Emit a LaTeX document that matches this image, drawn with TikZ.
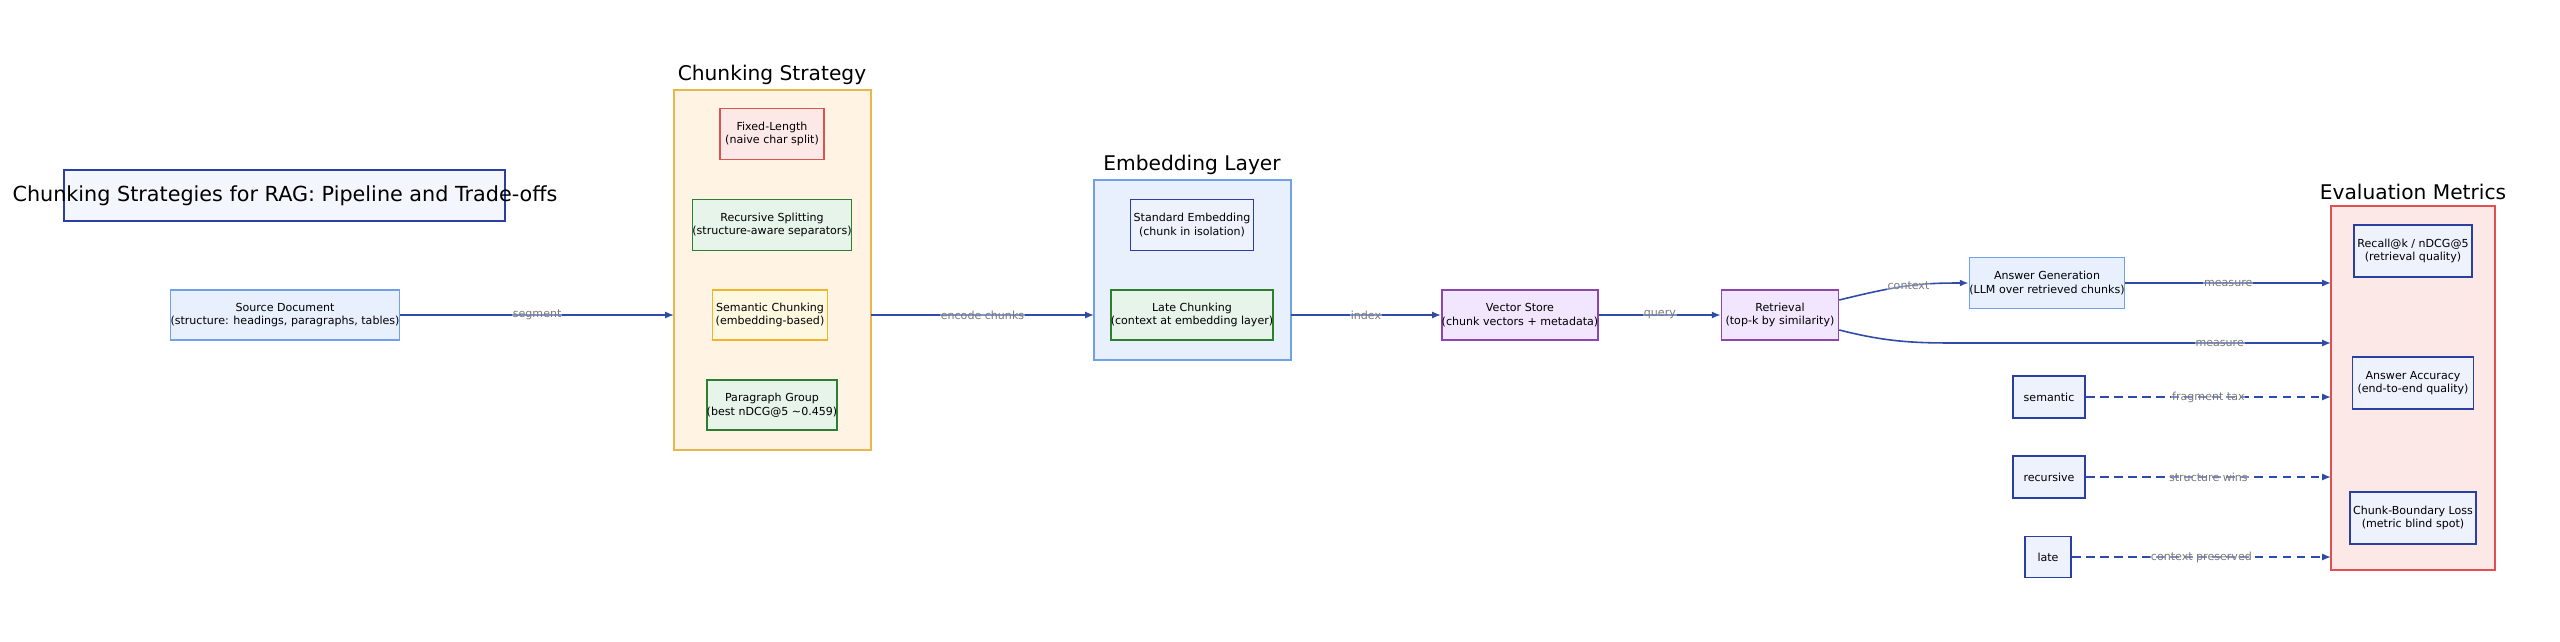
\documentclass[tikz,border=0pt]{standalone}
\usepackage{fontspec}
\setmainfont{DejaVu Sans}
\usetikzlibrary{arrows.meta}
\definecolor{dblue}{HTML}{2A3F9F}
\definecolor{lblue}{HTML}{6FA0E8}
\definecolor{edge}{HTML}{2F4BA8}
\definecolor{lab}{HTML}{7A7A7A}
\definecolor{ored}{HTML}{E8B64A}
\definecolor{ofill}{HTML}{FFF3E3}
\definecolor{bfill}{HTML}{E8F0FD}
\definecolor{efred}{HTML}{E05050}
\definecolor{effill}{HTML}{FDE8E8}
\definecolor{tfill}{HTML}{F3F6FD}
\definecolor{rred}{HTML}{D9534F}
\definecolor{gdraw}{HTML}{2E7D32}
\definecolor{gfill}{HTML}{E6F4EA}
\definecolor{ydraw}{HTML}{F0B429}
\definecolor{yfill}{HTML}{FFF8E1}
\definecolor{mfill}{HTML}{EEF2FD}
\definecolor{pdraw}{HTML}{8E44AD}
\definecolor{pfill}{HTML}{F1E6FD}
\begin{document}
\begin{tikzpicture}[x=0.02cm,y=-0.02cm,
  box/.style={draw=#1,line width=0.9pt,align=center,font=\fontsize{6.3}{7.8}\selectfont,inner sep=0pt,anchor=center},
  wh/.style 2 args={minimum width=#1*0.02cm,minimum height=#2*0.02cm},
  gtitle/.style={font=\fontsize{11.5}{13}\selectfont},
  conn/.style={draw=edge,line width=0.9pt,-{Latex[length=5pt,width=4pt]}},
  dconn/.style={conn,dash pattern=on 5pt off 3pt},
  lbl/.style={font=\fontsize{6.3}{7.5}\selectfont,text=lab,fill=white,fill opacity=0.4,text opacity=1,inner sep=0.5pt}]
\useasboundingbox (0,0) rectangle (2560,642);
% groups
\filldraw[draw=ored,fill=ofill,line width=0.9pt] (674,90) rectangle (871,450);
\coordinate (cgl) at (674,315); \coordinate (cgr) at (871,315);
\node[gtitle] (cgt) at (772,75) {Chunking Strategy};
\filldraw[draw=lblue,fill=bfill,line width=0.9pt] (1094,180) rectangle (1291,360);
\coordinate (egl) at (1094,315); \coordinate (egr) at (1291,315);
\node[gtitle] (egt) at (1192,165) {Embedding Layer};
\filldraw[draw=efred,fill=effill,line width=0.9pt] (2331,206) rectangle (2495,570);
\coordinate (ev1) at (2331,283); \coordinate (ev2) at (2331,343);
\coordinate (ev3) at (2331,397); \coordinate (ev4) at (2331,477); \coordinate (ev5) at (2331,557);
\node[gtitle] (evt) at (2413,192) {Evaluation Metrics};
% title
\filldraw[draw=dblue,fill=tfill,line width=0.9pt] (64,170) rectangle (505,221);
\node[font=\fontsize{11.8}{14}\selectfont] (title) at (285,196) {Chunking Strategies for RAG: Pipeline and Trade-offs};
% nodes
\node[box=lblue,fill=bfill,wh={212}{50}] (src) at (285,315) {Source Document\\(structure: headings, paragraphs, tables)};
\node[box=rred,fill=effill,wh={104}{51}] (fix) at (772,134) {Fixed-Length\\(naive char split)};
\node[box=gdraw,fill=gfill,wh={159}{51}] (rec) at (772,225) {Recursive Splitting\\(structure-aware separators)};
\node[box=ydraw,fill=yfill,wh={115}{50}] (sem) at (770,315) {Semantic Chunking\\(embedding-based)};
\node[box=gdraw,fill=gfill,wh={128}{50}] (par) at (772,405) {Paragraph Group\\(best nDCG@5 \textasciitilde 0.459)};
\node[box=dblue,fill=mfill,wh={123}{51}] (std) at (1192,225) {Standard Embedding\\(chunk in isolation)};
\node[box=gdraw,fill=gfill,wh={158}{50}] (late) at (1192,315) {Late Chunking\\(context at embedding layer)};
\node[box=pdraw,fill=pfill,wh={153}{50}] (vs) at (1520,315) {Vector Store\\(chunk vectors + metadata)};
\node[box=pdraw,fill=pfill,wh={117}{50}] (ret) at (1780,315) {Retrieval\\(top-k by similarity)};
\node[box=lblue,fill=bfill,wh={154}{51}] (ans) at (2047,283) {Answer Generation\\(LLM over retrieved chunks)};
\node[box=dblue,fill=mfill,wh={118}{52}] (m1) at (2413,251) {Recall@k / nDCG@5\\(retrieval quality)};
\node[box=dblue,fill=mfill,wh={121}{52}] (m2) at (2413,383) {Answer Accuracy\\(end-to-end quality)};
\node[box=dblue,fill=mfill,wh={126}{52}] (m3) at (2413,518) {Chunk-Boundary Loss\\(metric blind spot)};
\node[box=dblue,fill=mfill,wh={72}{42}] (s1) at (2049,397) {semantic};
\node[box=dblue,fill=mfill,wh={72}{42}] (s2) at (2049,477) {recursive};
\node[box=dblue,fill=mfill,wh={46}{41}] (s3) at (2048,557) {late};
% edges
\draw[conn] (src) -- node[lbl]{segment} (cgl);
\draw[conn] (cgr) -- node[lbl]{encode chunks} (egl);
\draw[conn] (egr) -- node[lbl]{index} (vs);
\draw[conn] (vs) -- node[lbl]{query} (ret);
\coordinate (r1) at ([yshift=0.3cm]ret.east);
\coordinate (r2) at ([yshift=-0.3cm]ret.east);
\draw[conn] (r1) .. controls (1900,285) and (1920,283) .. node[lbl,pos=0.5]{context} (ans.west);
\draw[conn] (ans) -- node[lbl]{measure} (ev1);
\draw[conn] (r2) .. controls (1890,343) and (1920,343) .. (1960,343) -- node[lbl,pos=0.7]{measure} (ev2);
\draw[dconn] (s1) -- node[lbl]{fragment tax} (ev3);
\draw[dconn] (s2) -- node[lbl]{structure wins} (ev4);
\draw[dconn] (s3) -- node[lbl]{context preserved} (ev5);
\end{tikzpicture}
\end{document}
